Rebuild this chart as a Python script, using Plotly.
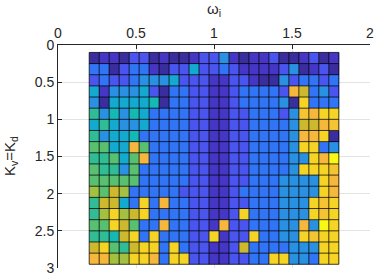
import numpy as np
import plotly.graph_objects as go

# cell-edge grids
omega_edges = np.linspace(0.2, 1.8, 26)   # ω_i
k_edges = np.linspace(0.1, 2.95, 20)      # K_v = K_d

# colour levels (parula-like)
D, I, B, R, L, C, T, E, G, N, V, O, Y, W = (0.0, 0.06, 0.12, 0.20, 0.28, 0.36, 0.44,
                                            0.52, 0.60, 0.70, 0.78, 0.86, 0.93, 1.0)
P = 0.89  # yellow-orange

row00 = [D, I, I, D, B, B, D, I, D, D, I, B, B, L, I, D, I, I, B, D, D, I, B, D, I]
row01 = [R, R, D, B, R, R, I, D, B, B, C, B, B, R, B, I, I, I, I, B, L, D, I, B, D]
row02 = [B, R, B, B, R, L, L, L, C, B, B, B, I, I, B, B, I, D, D, L, B, R, R, B, R]
row03 = [C, I, L, L, L, C, B, D, R, R, B, B, I, I, B, R, R, R, R, B, O, V, R, L, B]
row04 = [L, D, C, C, C, C, T, D, R, R, B, B, I, I, B, R, R, R, R, L, D, Y, R, R, R]
row05 = [E, L, T, L, T, C, R, R, R, R, B, B, I, I, B, B, R, R, R, B, L, P, O, Y, Y]
row06 = [C, E, C, L, L, C, R, R, R, R, B, B, I, I, B, B, R, R, R, R, L, V, V, O, P]
row07 = [E, L, C, C, T, R, R, R, R, R, B, B, I, I, B, B, R, R, R, R, L, O, O, Y, D]
row08 = [G, G, C, C, O, G, R, R, R, R, B, B, I, I, B, B, R, R, R, R, L, Y, Y, R, L]
row09 = [E, E, G, C, G, O, R, R, R, R, B, B, I, I, B, B, R, R, R, R, L, L, Y, O, W]
row10 = [G, E, E, L, G, R, R, R, R, R, B, B, I, I, B, B, R, R, R, R, L, Y, Y, Y, P]
row11 = [G, G, G, G, G, R, R, R, R, R, B, B, I, I, B, B, R, R, R, L, L, L, L, Y, O]
row12 = [N, G, V, N, R, R, R, R, R, B, B, B, I, I, B, R, R, R, R, L, L, L, L, Y, O]
row13 = [E, V, V, C, R, Y, R, O, R, R, B, B, I, I, B, B, R, R, R, L, L, L, Y, P, Y]
row14 = [E, N, Y, N, V, Y, R, R, R, R, B, B, I, I, B, Y, R, R, R, L, L, L, Y, P, Y]
row15 = [G, G, Y, V, G, R, R, O, R, R, B, B, I, O, B, B, R, R, R, L, L, O, L, W, Y]
row16 = [E, E, T, V, Y, R, Y, R, R, R, B, B, Y, I, B, B, Y, R, R, L, L, Y, P, Y, Y]
row17 = [V, Y, G, E, V, Y, Y, R, Y, R, B, B, I, I, B, V, R, R, R, R, L, L, L, Y, Y]
row18 = [O, O, N, N, Y, Y, O, R, Y, Y, B, B, I, I, B, B, R, R, Y, Y, L, L, R, Y, Y]

z = [row00, row01, row02, row03, row04, row05, row06, row07, row08, row09,
     row10, row11, row12, row13, row14, row15, row16, row17, row18]

x_ticks = [0, 0.5, 1, 1.5, 2]
x_ticklabels = ["0", "0.5", "1", "1.5", "2"]
y_ticks = [0, 0.5, 1, 1.5, 2, 2.5, 3]
y_ticklabels = ["0", "0.5", "1", "1.5", "2", "2.5", "3"]

parula = [[0.00, '#3a2d9e'], [0.06, '#4536c5'], [0.12, '#4a55ef'], [0.20, '#3274f6'],
          [0.28, '#2a90e2'], [0.36, '#14aad0'], [0.44, '#16b8b4'], [0.52, '#30bc94'],
          [0.60, '#58c070'], [0.70, '#a4c040'], [0.78, '#cdb92e'], [0.86, '#f5b83c'],
          [0.93, '#f5d425'], [1.00, '#f8f812']]

fig = go.Figure()
fig.add_trace(go.Heatmap(x=omega_edges, y=k_edges, z=z, colorscale=parula,
                         zmin=0, zmax=1, showscale=False, hoverinfo="skip"))

# cell edge lines (pcolor style)
lx, ly = [], []
for xv in omega_edges:
    lx += [xv, xv, None]
    ly += [k_edges[0], k_edges[-1], None]
for yv in k_edges:
    lx += [omega_edges[0], omega_edges[-1], None]
    ly += [yv, yv, None]
fig.add_trace(go.Scatter(x=lx, y=ly, mode="lines",
                         line=dict(color="rgba(0,0,0,0.75)", width=1),
                         hoverinfo="skip", showlegend=False))

font_family = "Liberation Sans, Arial, sans-serif"
fig.update_layout(
    width=374, height=274,
    margin=dict(l=58, r=4, t=45, b=6, autoexpand=False),
    paper_bgcolor="white", plot_bgcolor="white",
    showlegend=False,
    font=dict(family=font_family, size=14, color="#262626"),
    annotations=[
        dict(text="ω<sub>i</sub>", xref="paper", yref="paper", x=0.5, y=1,
             yshift=24, showarrow=False, xanchor="center", yanchor="bottom",
             font=dict(size=15, color="#262626")),
        dict(text="K<sub>v</sub>=K<sub>d</sub>", xref="paper", yref="paper", x=0, y=0.5,
             xshift=-36, showarrow=False, textangle=-90, xanchor="right", yanchor="middle",
             font=dict(size=15, color="#262626")),
    ],
)
fig.update_xaxes(
    side="top", range=[0, 2], tickvals=x_ticks, ticktext=x_ticklabels,
    showgrid=True, gridcolor="#e3e3e3", gridwidth=1, automargin=False,
    ticklabeloverflow="allow",
    showline=True, linecolor="#262626", linewidth=1, mirror=False,
    ticks="inside", ticklen=4, tickcolor="#262626", zeroline=False,
)
fig.update_yaxes(
    range=[3, 0], tickvals=y_ticks, ticktext=y_ticklabels,
    showgrid=True, gridcolor="#e3e3e3", gridwidth=1, automargin=False,
    ticklabeloverflow="allow",
    showline=True, linecolor="#262626", linewidth=1, mirror=False,
    ticks="inside", ticklen=4, tickcolor="#262626", zeroline=False,
)

fig.write_html("out.html", config={"displayModeBar": False},
               post_script="document.body.style.margin='0';document.body.style.overflow='hidden';")
